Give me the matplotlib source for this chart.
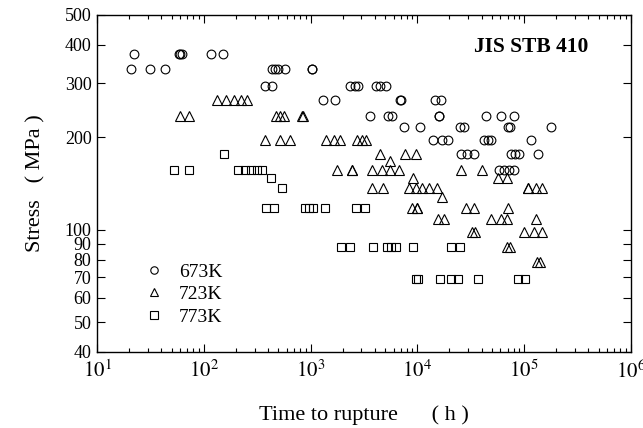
import matplotlib
matplotlib.use('Agg')
import matplotlib.pyplot as plt
from matplotlib.ticker import FixedLocator, FixedFormatter, NullLocator

# ── Creep rupture data, JIS STB 410 ──────────────────────────────────────────
# stress in MPa, time to rupture in hours
s_673 = [373] * 6 + [333] * 9 + [294] * 8 + [265] * 6 + [235] * 8 + [216] * 7 \
    + [196] * 7 + [176.5] * 7 + [157] * 4
t_673 = [22, 58, 60, 63, 117, 152,
         21, 31, 43, 438, 468, 499, 580, 1040, 1040,
         377, 438, 2360, 2630, 2810, 4060, 4520, 5040,
         1320, 1710, 6950, 7100, 14800, 16500,
         3640, 5370, 5850, 15800, 16100, 43600, 60300, 79900,
         7430, 10500, 24900, 27100, 70200, 73300, 178000,
         13900, 17200, 19200, 41800, 45600, 48600, 115000,
         25400, 28900, 33700, 74900, 81600, 89000, 134000,
         57800, 64400, 71700, 79900]

s_723 = [265] * 5 + [235] * 7 + [196] * 9 + [176.5] * 3 + [167] + [157] * 9 \
    + [147] * 3 + [137] * 11 + [127.5] + [118] * 6 + [108] * 6 + [98] * 5 \
    + [88] * 2 + [78.5] * 2
t_723 = [134, 162, 193, 224, 255,
         60, 73, 478, 521, 568, 838, 856,
         377, 521, 646, 1410, 1640, 1900, 2750, 3060, 3340,
         4520, 7750, 9620,
         5600,
         1780, 2470, 2470, 3800, 4620, 5600, 6810, 25400, 40000,
         9210, 56500, 68700,
         3800, 4720, 8270, 9620, 10950, 12740, 15140, 108000, 108000, 128500, 146300,
         16900,
         8830, 10040, 10040, 28300, 33700, 70200,
         15500, 17600, 48600, 60300, 68700, 128500,
         32300, 34400, 99100, 123100, 146300,
         68700, 73300,
         131300, 140100]

s_773 = [176.5] + [157] * 7 + [147] + [137] + [118] * 8 + [88] * 9 + [69] * 8
t_773 = [155,
         52, 73, 210, 245, 278, 317, 353,
         429,
         544,
         385, 458, 894, 974, 1062, 1377, 2690, 3270,
         1945, 2360, 3880, 5250, 5730, 6250, 9020, 20900, 24900,
         9620, 10260, 16160, 20900, 23800, 36700, 87100, 101300]

y_ticks = [40, 50, 60, 70, 80, 90, 100, 200, 300, 400, 500]
x_ticks = [1e1, 1e2, 1e3, 1e4, 1e5, 1e6]
x_tick_labels = [r'$10^{1}$', r'$10^{2}$', r'$10^{3}$', r'$10^{4}$', r'$10^{5}$', r'$10^{6}$']

# ── Plot ──────────────────────────────────────────────────────────────────────
plt.rcParams['font.family'] = ['Liberation Serif', 'DejaVu Serif']
plt.rcParams['mathtext.fontset'] = 'stix'

fig = plt.figure(figsize=(6.43, 4.28), dpi=100)
ax = fig.add_axes([0.151, 0.1776, 0.830, 0.7874])

style = dict(linestyle='none', markerfacecolor='none', markeredgecolor='black',
             markeredgewidth=0.8, color='black')
ax.plot(t_673, s_673, marker='o', markersize=6.3, label='673K', **style)
ax.plot(t_723, s_723, marker='^', markersize=7.0, label='723K', **style)
ax.plot(t_773, s_773, marker='s', markersize=6.0, label='773K', **style)

ax.set_xscale('log')
ax.set_yscale('log')
ax.set_xlim(1e1, 1e6)
ax.set_ylim(40, 500)

ax.xaxis.set_major_locator(FixedLocator(x_ticks))
ax.xaxis.set_major_formatter(FixedFormatter(x_tick_labels))
ax.yaxis.set_major_locator(FixedLocator(y_ticks))
ax.yaxis.set_major_formatter(FixedFormatter([str(v) for v in y_ticks]))
ax.yaxis.set_minor_locator(NullLocator())

ax.tick_params(which='both', direction='in', top=True, right=True, width=0.8)
ax.tick_params(which='major', length=6)
ax.tick_params(which='minor', length=3)
ax.tick_params(axis='y', labelsize=13, pad=4)
ax.tick_params(axis='x', labelsize=15, pad=6)
for sp in ax.spines.values():
    sp.set_linewidth(1.0)

ax.set_xlabel('Time to rupture      ( h )', fontsize=16, labelpad=16)
ax.set_ylabel('Stress   ( MPa )', fontsize=16, labelpad=14)

ax.text(0.92, 0.905, 'JIS STB 410', transform=ax.transAxes, ha='right', va='center',
        fontsize=15.5, fontweight='bold')

ax.legend(loc='upper left', bbox_to_anchor=(0.07, 0.287), frameon=False,
          fontsize=14, markerscale=0.85, handlelength=1.2, handletextpad=0.7,
          labelspacing=0.25, borderaxespad=0)

fig.savefig('out.png', dpi=100)
plt.close(fig)
